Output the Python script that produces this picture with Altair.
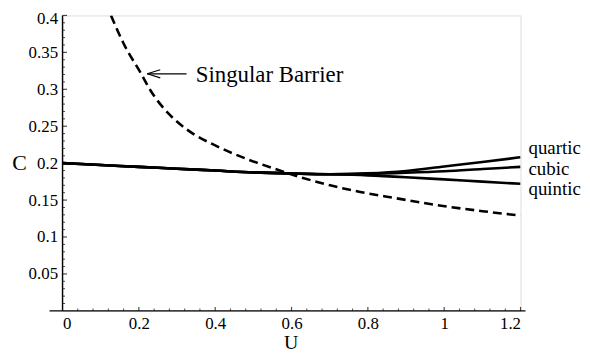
import altair as alt
import pandas as pd

# ---- data ----
U_grid = [0.0, 0.1, 0.2, 0.3, 0.4, 0.5, 0.6, 0.7, 0.8, 0.9, 1.0, 1.1, 1.2]
quartic_C = [0.200, 0.1975, 0.195, 0.1925, 0.190, 0.1875, 0.186, 0.185, 0.1862, 0.1895, 0.1955, 0.2015, 0.208]
cubic_C   = [0.200, 0.1975, 0.195, 0.1925, 0.190, 0.1875, 0.186, 0.185, 0.1855, 0.187, 0.189, 0.192, 0.195]
quintic_C = [0.200, 0.1975, 0.195, 0.1925, 0.190, 0.1875, 0.186, 0.185, 0.1835, 0.181, 0.178, 0.175, 0.172]

barrier_U = [0.127, 0.16, 0.205, 0.231, 0.278, 0.330, 0.400, 0.486, 0.558, 0.63, 0.701,
             0.78, 0.868, 0.997, 1.1, 1.2]
barrier_C = [0.400, 0.362, 0.322, 0.298, 0.267, 0.244, 0.224, 0.205, 0.192, 0.180, 0.170,
             0.161, 0.153, 0.142, 0.135, 0.129]

series_names = ["quartic", "cubic", "quintic"]
label_C = [0.220, 0.192, 0.165]

x_major = [0, 0.2, 0.4, 0.6, 0.8, 1.0, 1.2]
x_minor = [round(i * 0.04, 2) for i in range(31) if (i % 5) != 0]
y_major = [0.05, 0.1, 0.15, 0.2, 0.25, 0.3, 0.35, 0.4]
y_minor = [round(i * 0.01, 2) for i in range(1, 41) if (i % 5) != 0]

# annotation arrow (tip at left, pointing to the barrier curve)
arrow_x = [0.222, 0.222, 0.222]
arrow_y = [0.321, 0.321, 0.321]
arrow_x2 = [0.325, 0.256, 0.256]
arrow_y2 = [0.321, 0.3265, 0.3155]
annot_text = "Singular Barrier"
annot_U, annot_C = 0.349, 0.319

FONT = "Liberation Serif"

rows = []
for name, vals in zip(series_names, [quartic_C, cubic_C, quintic_C]):
    for u, c in zip(U_grid, vals):
        rows.append({"U": u, "C": c, "series": name})
solid_df = pd.DataFrame(rows)
barrier_df = pd.DataFrame({"U": barrier_U, "C": barrier_C})
labels_df = pd.DataFrame({"U": [1.2] * 3, "C": label_C, "name": series_names})
arrow_df = pd.DataFrame({"x": arrow_x, "y": arrow_y, "x2": arrow_x2, "y2": arrow_y2})

xs = alt.Scale(domain=[0, 1.2], nice=False, zero=False)
ys = alt.Scale(domain=[0, 0.4], nice=False, zero=False)

x_axis = alt.Axis(values=x_major, labelExpr="'' + datum.value", domain=False, ticks=False,
                  grid=False, labelFont=FONT, labelFontSize=17, labelColor="black",
                  labelPadding=5, title="U", titleFont=FONT, titleFontSize=20,
                  titleFontWeight="normal", titleColor="black", titleX=230, titleY=32,
                  titleAnchor="start", titleAlign="center", titleBaseline="middle")
y_axis = alt.Axis(values=y_major, labelExpr="'' + datum.value", domain=False, ticks=False,
                  grid=False, labelFont=FONT, labelFontSize=17, labelColor="black",
                  labelAlign="right", labelPadding=5, labelFlush=True, labelFlushOffset=5,
                  title="C", titleFont=FONT,
                  titleFontSize=22, titleFontWeight="normal", titleColor="black",
                  titleAngle=0, titleX=-44, titleY=148, titleAlign="center",
                  titleBaseline="middle")

solid = alt.Chart(solid_df).mark_line(color="black", strokeWidth=2.6, clip=True,
                                      interpolate="monotone").encode(
    x=alt.X("U:Q", scale=xs, axis=x_axis),
    y=alt.Y("C:Q", scale=ys, axis=y_axis),
    detail="series:N",
)
barrier = alt.Chart(barrier_df).mark_line(color="black", strokeWidth=2.6, strokeDash=[9, 5],
                                           clip=True, interpolate="monotone").encode(
    x=alt.X("U:Q", scale=xs), y=alt.Y("C:Q", scale=ys))

xaxis_line = alt.Chart(pd.DataFrame({"a": [-0.034], "b": [1.213], "c": [0.0]})).mark_rule(
    color="black", strokeWidth=1.4).encode(x=alt.X("a:Q", scale=xs), x2="b:Q", y=alt.Y("c:Q", scale=ys))
yaxis_line = alt.Chart(pd.DataFrame({"a": [0.0], "b": [0.0], "c": [0.4]})).mark_rule(
    color="black", strokeWidth=1.4).encode(x=alt.X("a:Q", scale=xs), y=alt.Y("b:Q", scale=ys), y2="c:Q")

x_major_t = alt.Chart(pd.DataFrame({"v": x_major[1:], "z": 0.0})).mark_tick(
    color="black", thickness=1.2, size=4, yOffset=-2, orient="vertical").encode(
    x=alt.X("v:Q", scale=xs), y=alt.Y("z:Q", scale=ys))
x_minor_t = alt.Chart(pd.DataFrame({"v": x_minor, "z": 0.0})).mark_tick(
    color="black", thickness=1, size=2.5, yOffset=-1.25, orient="vertical").encode(
    x=alt.X("v:Q", scale=xs), y=alt.Y("z:Q", scale=ys))
y_major_t = alt.Chart(pd.DataFrame({"v": y_major, "z": 0.0})).mark_tick(
    color="black", thickness=1.2, size=4.5, xOffset=2.25, orient="horizontal").encode(
    x=alt.X("z:Q", scale=xs), y=alt.Y("v:Q", scale=ys))
y_minor_t = alt.Chart(pd.DataFrame({"v": y_minor, "z": 0.0})).mark_tick(
    color="black", thickness=1, size=2.5, xOffset=1.25, orient="horizontal").encode(
    x=alt.X("z:Q", scale=xs), y=alt.Y("v:Q", scale=ys))

end_labels = alt.Chart(labels_df).mark_text(align="left", baseline="middle", dx=8, font=FONT,
                                             fontSize=19, color="black").encode(
    x=alt.X("U:Q", scale=xs), y=alt.Y("C:Q", scale=ys), text="name:N")

arrow = alt.Chart(arrow_df).mark_rule(color="black", strokeWidth=1.2).encode(
    x=alt.X("x:Q", scale=xs), y=alt.Y("y:Q", scale=ys), x2="x2:Q", y2="y2:Q")
annot = alt.Chart(pd.DataFrame({"U": [annot_U], "C": [annot_C], "t": [annot_text]})).mark_text(
    align="left", baseline="middle", font=FONT, fontSize=23, color="black").encode(
    x=alt.X("U:Q", scale=xs), y=alt.Y("C:Q", scale=ys), text="t:N")

chart = alt.layer(
    xaxis_line, yaxis_line, x_major_t, x_minor_t, y_major_t, y_minor_t,
    barrier, solid, end_labels, arrow, annot,
).properties(
    width=462, height=298,
    autosize=alt.AutoSizeParams(type="none"),
    padding={"left": 55, "top": 6, "right": 62, "bottom": 42},
).configure_view(stroke=None).configure(background="white")

chart.save("out.html", embed_options={"renderer": "svg", "actions": False})
